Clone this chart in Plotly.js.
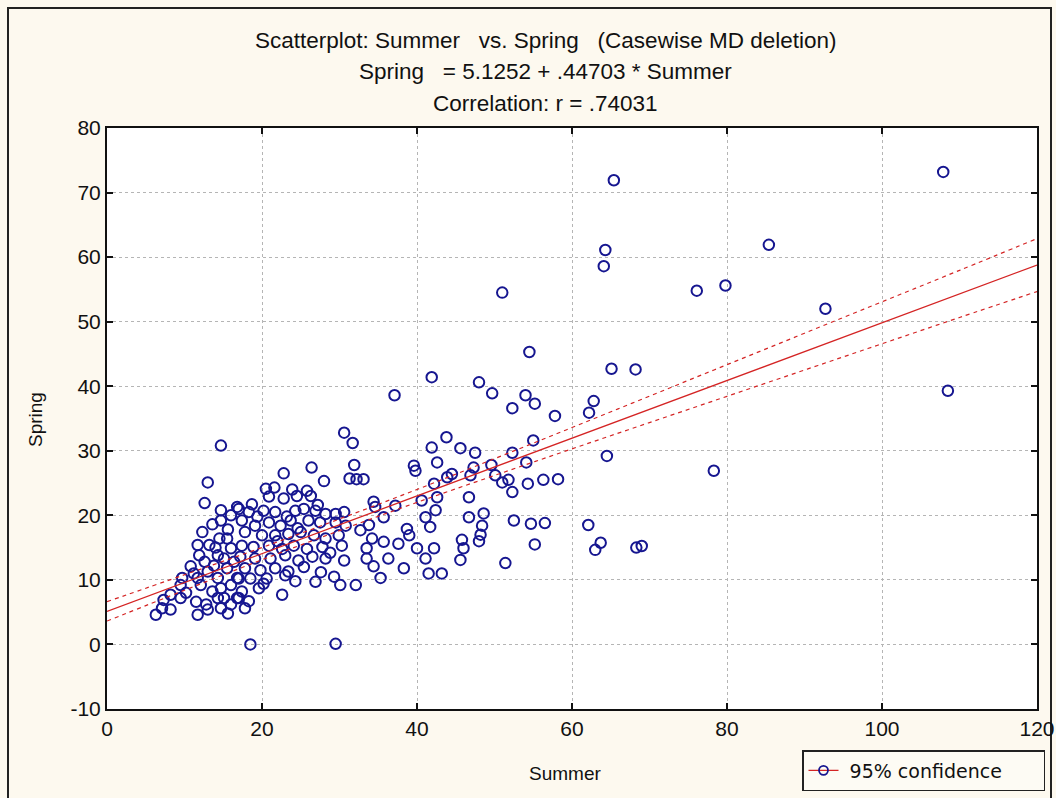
<!DOCTYPE html>
<html>
<head>
<meta charset="utf-8">
<script src="https://cdn.plot.ly/plotly-3.0.1.min.js"></script>
<style>html,body{margin:0;padding:0;background:#fdf9ef;}#chart{width:1056px;height:798px;}</style>
</head>
<body>
<div id="chart"></div>
<script>
// ---- data ----
const summer = [
  14.7,13.0,12.6,14.7,16.0,16.8,14.7,12.3,13.2,11.7,11.9,14.5,15.5,16.0,14.3,15.1,10.8,9.7,9.5,11.7,
  13.0,12.1,14.3,15.5,14.7,16.0,16.8,13.6,15.1,8.2,7.3,9.5,7.1,8.2,6.3,11.7,13.0,14.7,16.0,16.8,
  11.5,14.3,13.8,12.6,11.2,14.0,16.4,15.6,13.6,10.2,12.8,15.6,
  30.6,31.7,26.4,31.9,31.3,32.2,33.1,28.0,22.8,20.5,21.6,20.9,23.9,25.8,22.8,24.5,26.3,17.0,18.7,18.3,
  20.2,21.7,24.3,25.4,26.9,28.2,29.5,30.6,17.4,19.1,20.9,22.4,23.7,26.0,27.5,29.5,30.8,17.8,20.0,21.7,
  23.4,25.0,26.7,28.2,29.9,17.4,18.9,20.9,22.6,24.1,25.8,27.8,30.3,17.2,19.1,21.1,23.0,24.7,26.5,28.2,
  30.6,17.8,19.8,21.7,23.4,25.4,17.0,18.5,20.6,23.0,24.3,26.9,29.3,30.1,32.1,17.4,19.6,17.0,18.3,22.6,
  17.8,18.5,29.5,19.4,22.0,23.2,27.2,24.6,28.8,27.6,20.2,
  41.9,37.1,43.8,41.9,42.6,39.6,39.8,45.6,47.5,44.5,43.9,47.3,46.9,42.2,42.6,40.6,46.7,42.4,41.1,41.7,
  46.7,45.8,46.0,45.6,40.0,41.1,42.2,41.5,43.2,38.7,39.0,37.6,36.3,38.3,35.3,35.7,34.2,33.5,33.5,34.4,
  33.8,32.7,35.7,34.4,34.6,37.2,
  48.0,54.5,65.1,49.7,54.0,55.2,52.3,62.8,62.2,57.8,55.0,52.3,49.6,54.1,50.1,51.0,51.8,52.3,54.3,56.3,
  58.2,64.5,48.6,48.4,48.2,48.0,52.5,54.7,56.5,62.1,55.2,63.7,63.0,68.3,69.0,51.4,68.2,
  65.4,107.9,64.3,64.1,85.4,76.1,79.8,92.7,51.0,108.5,78.3
];
const spring = [
  30.8,25.1,21.9,20.8,20.0,21.3,19.2,17.4,15.4,15.4,13.8,16.4,16.4,14.9,13.8,13.3,12.1,10.3,9.2,10.3,
  11.3,9.2,10.3,11.8,8.7,9.2,10.3,8.2,7.2,7.7,6.9,7.2,5.6,5.4,4.6,4.6,5.4,5.6,6.2,7.2,
  6.6,7.2,12.2,12.8,11.0,15.0,12.8,17.8,18.6,8.0,6.2,4.8,
  32.8,31.2,27.4,27.8,25.7,25.6,25.6,25.3,26.5,24.1,24.3,22.9,24.0,23.8,22.6,23.0,23.0,21.0,21.7,20.5,
  20.7,20.5,20.7,21.0,20.7,20.2,20.2,20.5,19.2,18.4,18.9,18.4,19.2,19.2,18.9,18.9,18.4,17.4,16.9,16.9,
  17.1,17.4,16.9,16.4,16.9,15.3,15.1,15.3,14.8,15.3,14.8,15.1,15.3,13.6,13.3,13.3,13.8,13.0,13.6,13.3,
  13.0,11.8,11.5,11.8,11.3,12.0,10.2,10.2,10.2,10.7,9.8,9.7,10.5,9.2,9.2,8.2,8.7,7.2,6.7,7.7,
  5.6,0.0,0.1,19.8,16.0,19.8,21.6,18.0,14.2,11.2,9.4,
  41.4,38.6,32.1,30.5,28.2,27.7,26.9,30.4,29.7,26.4,25.9,27.4,26.2,24.9,22.8,22.3,22.8,20.8,19.7,18.2,
  19.7,16.2,14.9,13.1,14.9,13.3,14.9,11.0,11.0,17.9,16.9,15.6,13.3,11.8,10.3,15.9,16.4,14.9,13.3,12.1,
  18.5,17.7,19.7,22.1,21.3,21.5,
  40.6,45.3,42.7,38.9,38.6,37.3,36.6,37.7,35.9,35.4,31.6,29.7,27.8,28.2,26.2,25.1,25.5,23.6,24.9,25.5,
  25.6,29.2,20.3,18.4,17.0,16.0,19.2,18.7,18.8,18.5,15.5,15.75,14.65,15.0,15.25,12.6,42.6,
  71.9,73.2,61.1,58.6,61.9,54.8,55.6,52.0,54.5,39.3,26.9
];
// regression from the chart's own equation
const intercept = 5.1252;
const slope = 0.44703;
// 95% confidence band half-widths
const ciX    = [0, 10, 20, 30, 40, 50, 60, 70, 80, 90, 100, 110, 120];
const ciHalf = [1.5, 1.2, 0.95, 0.9, 1.0, 1.3, 1.65, 2.05, 2.45, 2.85, 3.25, 3.65, 4.1];

const titleLines = [
  'Scatterplot: Summer   vs. Spring   (Casewise MD deletion)',
  'Spring   = 5.1252 + .44703 * Summer',
  'Correlation: r = .74031'
];
const legendName = '95% confidence';
const xTicks = [0, 20, 40, 60, 80, 100, 120];
const yTicks = [-10, 0, 10, 20, 30, 40, 50, 60, 70, 80];

const fitY = ciX.map(x => intercept + slope * x);
const upY = fitY.map((y, i) => y + ciHalf[i]);
const loY = fitY.map((y, i) => y - ciHalf[i]);

const navy = '#161690';
const red = '#d42424';
const NB = '\u00A0';

const traces = [
  {x: summer, y: spring, type: 'scatter', mode: 'markers', showlegend: false,
   marker: {symbol: 'circle-open', size: 10.5, color: navy, line: {width: 2, color: navy}}},
  {x: ciX, y: fitY, type: 'scatter', mode: 'lines', showlegend: false,
   line: {color: red, width: 1.3}},
  {x: ciX, y: upY, type: 'scatter', mode: 'lines', showlegend: false,
   line: {color: red, width: 1.2, dash: '4px,4px', shape: 'spline'}},
  {x: ciX, y: loY, type: 'scatter', mode: 'lines', showlegend: false,
   line: {color: red, width: 1.2, dash: '4px,4px', shape: 'spline'}},
  {x: [null], y: [null], type: 'scatter', mode: 'lines+markers',
   name: NB + legendName + NB + NB + NB + NB + NB + NB,
   line: {color: red, width: 1.3},
   marker: {symbol: 'circle-open', size: 9, color: navy, line: {width: 1.8, color: navy}}}
];

const fontT = 'Liberation Sans, Arial, sans-serif';
const W = 1056, H = 798;
const L = 107, R = 1037, T = 128, B = 709;
const px2x = p => (p - L) / (R - L);
const px2y = p => (B - p) / (B - T);

const annotations = titleLines.map((t, i) => ({
  text: t, xref: 'paper', yref: 'paper', x: px2x(545), y: px2y([40, 72, 103][i]),
  xanchor: 'center', yanchor: 'middle', showarrow: false,
  font: {family: fontT, size: 22.5, color: '#111'}
}));
annotations.push({text: 'Spring', xref: 'paper', yref: 'paper', x: px2x(35), y: px2y(420),
  textangle: -90, xanchor: 'center', yanchor: 'middle', showarrow: false,
  font: {family: fontT, size: 19, color: '#111'}});
annotations.push({text: 'Summer', xref: 'paper', yref: 'paper', x: px2x(565), y: px2y(773),
  xanchor: 'center', yanchor: 'middle', showarrow: false,
  font: {family: fontT, size: 19, color: '#111'}});

const axisCommon = {
  showline: true, linecolor: '#111', linewidth: 2, mirror: 'allticks',
  ticks: 'inside', ticklen: 6, tickwidth: 2, tickcolor: '#111',
  showgrid: true, gridcolor: '#b5b5b5', gridwidth: 1, griddash: 'dot',
  zeroline: false, tickfont: {family: fontT, size: 21, color: '#111'}
};

const layout = {
  width: W, height: H,
  margin: {l: L, r: W - R, t: T, b: H - B, autoexpand: false},
  paper_bgcolor: '#fdf9ef', plot_bgcolor: '#ffffff',
  xaxis: Object.assign({}, axisCommon, {range: [0, 120], tickvals: xTicks, ticktext: xTicks.map(String), automargin: false}),
  yaxis: Object.assign({}, axisCommon, {range: [-10, 80], tickvals: yTicks, ticktext: yTicks.map(String), automargin: false}),
  annotations: annotations,
  showlegend: true,
  legend: {xref: 'container', yref: 'container', x: 802 / W, y: (H - 750) / H,
    xanchor: 'left', yanchor: 'top',
    bgcolor: '#fdfbf4', bordercolor: '#222', borderwidth: 1.5,
    font: {family: 'DejaVu Sans, sans-serif', size: 19, color: '#111'}},
  shapes: [{type: 'rect', xref: 'paper', yref: 'paper', x0: px2x(8), x1: px2x(1051), y0: px2y(805), y1: px2y(8),
    line: {color: '#222', width: 2}, fillcolor: 'rgba(0,0,0,0)', layer: 'below'}]
};

Plotly.newPlot('chart', traces, layout, {displayModeBar: false, staticPlot: true});
</script>
</body>
</html>
